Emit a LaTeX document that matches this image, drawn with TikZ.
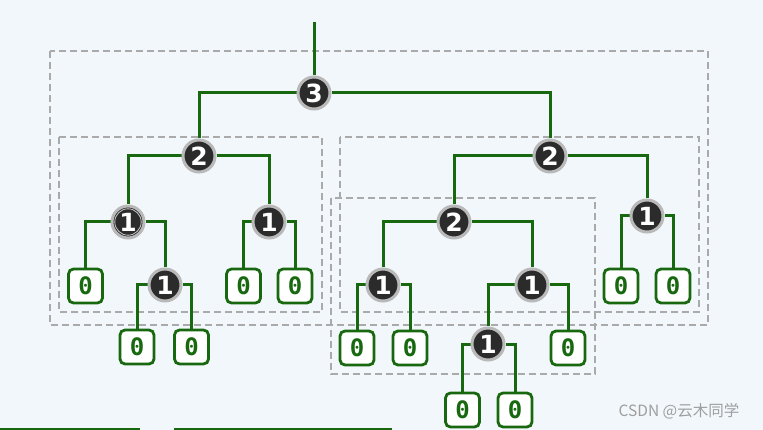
\documentclass[tikz,border=0pt]{standalone}
\usepackage{fontspec}
\setmainfont{DejaVu Sans}
\setmonofont{DejaVu Sans Mono}
\newfontfamily\cjk{Noto Sans CJK SC}
\usetikzlibrary{backgrounds}
\definecolor{bgc}{RGB}{242,247,251}
\definecolor{grn}{RGB}{24,104,16}
\definecolor{dark}{RGB}{43,43,43}
\definecolor{ring}{RGB}{185,185,185}
\definecolor{dashc}{RGB}{170,170,170}
\tikzset{
  x=1pt,y=-1pt,
  num/.style={circle,fill=dark,draw=ring,line width=3pt,minimum size=32pt,inner sep=0pt,
    text=white,font=\fontsize{25}{25}\selectfont\bfseries},
  leaf/.style={rectangle,rounded corners=5pt,fill=white,draw=grn,line width=2.8pt,
    minimum size=34pt,inner sep=0pt,text=grn,font=\fontsize{24}{24}\selectfont\ttfamily\bfseries},
  edge/.style={draw=grn,line width=3pt},
  dbox/.style={draw=dashc,line width=1.1pt,dash pattern=on 7pt off 4pt},
}
\begin{document}
\begin{tikzpicture}
\useasboundingbox (0,0) rectangle (763,430);
% nodes
\node[num] (n3) at (314,93) {3};
\node[num] (a2) at (199,156) {2};
\node[num] (b2) at (550,156) {2};
\node[num] (a1) at (128,222) {1};
\node[num] (b1) at (269,222) {1};
\node[num] (m2) at (454,222) {2};
\node[num] (c1) at (647,216) {1};
\node[num] (d1) at (165,285) {1};
\node[num] (e1) at (383,285) {1};
\node[num] (f1) at (532,285) {1};
\node[num] (g1) at (488,344) {1};
\node[leaf] (l1) at (85.5,286) {0};
\node[leaf] (l2) at (243.5,286) {0};
\node[leaf] (l3) at (295,286) {0};
\node[leaf] (l4) at (621,286) {0};
\node[leaf] (l5) at (673,286) {0};
\node[leaf] (l6) at (137,347) {0};
\node[leaf] (l7) at (191.5,347) {0};
\node[leaf] (l8) at (357,348) {0};
\node[leaf] (l9) at (410,348) {0};
\node[leaf] (l10) at (568,348) {0};
\node[leaf] (l11) at (462.5,410) {0};
\node[leaf] (l12) at (515,410) {0};
\draw[draw=ring!70,line width=0.8pt] (a1.center) circle[radius=13.2];
\coordinate (top) at (314,22);
\coordinate (bl1) at (0,429);
\coordinate (bl2) at (140,429);
\coordinate (bl3) at (174,429);
\coordinate (bl4) at (392,429);
\node[text=black!38,font=\cjk\fontsize{15.5}{15.5}\selectfont,inner sep=0pt] (wm) at (679,411) {CSDN @云木同学};
\begin{scope}[on background layer]
  \fill[bgc] (0,0) rectangle (763,430);
  \draw[dbox] (50,51) rectangle (708,325);
  \draw[dbox] (59,137) rectangle (322,312);
  \draw[dbox] (340,137) rectangle (699,312);
  \draw[dbox] (331,198) rectangle (595,374);
  \path[edge] (top) -- (n3);
  \path[edge] (n3.west) -| (a2.north);
  \path[edge] (n3.east) -| (b2.north);
  \path[edge] (a2.west) -| (a1.north);
  \path[edge] (a2.east) -| (b1.north);
  \path[edge] (b2.west) -| (m2.north);
  \path[edge] (b2.east) -| (c1.north);
  \path[edge] (a1.west) -| (l1.north);
  \path[edge] (a1.east) -| (d1.north);
  \path[edge] (b1.west) -| (l2.north);
  \path[edge] (b1.east) -| (l3.north);
  \path[edge] (m2.west) -| (e1.north);
  \path[edge] (m2.east) -| (f1.north);
  \path[edge] (c1.west) -| (l4.north);
  \path[edge] (c1.east) -| (l5.north);
  \path[edge] (d1.west) -| (l6.north);
  \path[edge] (d1.east) -| (l7.north);
  \path[edge] (e1.west) -| (l8.north);
  \path[edge] (e1.east) -| (l9.north);
  \path[edge] (f1.west) -| (g1.north);
  \path[edge] (f1.east) -| (l10.north);
  \path[edge] (g1.west) -| (l11.north);
  \path[edge] (g1.east) -| (l12.north);
  \draw[draw=grn,line width=2pt] (bl1) -- (bl2);
  \draw[draw=grn,line width=2pt] (bl3) -- (bl4);
\end{scope}
\end{tikzpicture}
\end{document}
